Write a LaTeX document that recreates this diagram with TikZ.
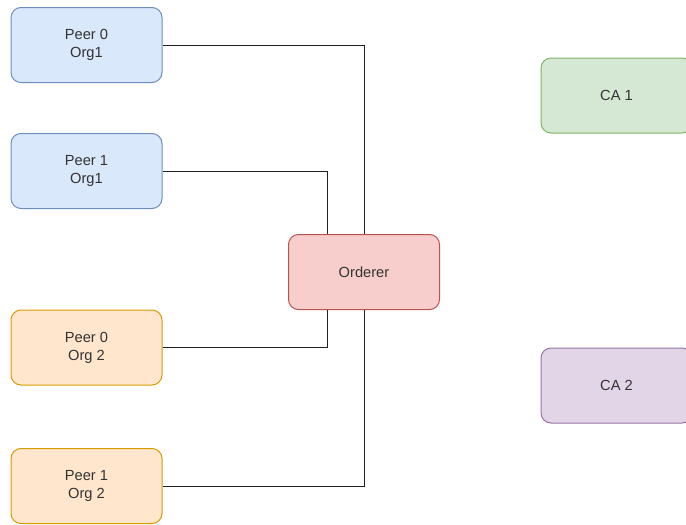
\documentclass[tikz,border=0pt]{standalone}
\usepackage{fontspec}
\setmainfont{Liberation Sans}
\usetikzlibrary{calc}
\definecolor{blueFill}{RGB}{218,232,252}
\definecolor{blueLine}{RGB}{108,142,191}
\definecolor{orangeFill}{RGB}{255,230,204}
\definecolor{orangeLine}{RGB}{215,155,0}
\definecolor{redFill}{RGB}{248,206,204}
\definecolor{redLine}{RGB}{184,84,80}
\definecolor{greenFill}{RGB}{213,232,212}
\definecolor{greenLine}{RGB}{130,179,102}
\definecolor{purpleFill}{RGB}{225,213,231}
\definecolor{purpleLine}{RGB}{150,115,166}
\definecolor{textGray}{RGB}{51,51,51}
\tikzset{
  box/.style={rounded corners=7.5pt, minimum width=113.25pt, minimum height=56.25pt,
    line width=0.75pt, align=center, text=textGray, inner sep=0pt,
    font=\fontsize{11}{13.5}\selectfont},
  link/.style={draw={rgb,255:red,34;green,34;blue,34}, line width=0.75pt}
}
\begin{document}
\begin{tikzpicture}[x=0.75pt,y=0.75pt,yscale=-1,xscale=1]
  \useasboundingbox (0,0) rectangle (686,525);

  %Rounded Rect: peers of Org1
  \node [box, draw=blueLine, fill=blueFill] (p0org1) at (86.5,45) {Peer 0\\Org1};
  \node [box, draw=blueLine, fill=blueFill] (p1org1) at (86.5,171) {Peer 1\\Org1};
  %Rounded Rect: peers of Org 2
  \node [box, draw=orangeLine, fill=orangeFill] (p0org2) at (86.5,347.5) {Peer 0\\Org 2};
  \node [box, draw=orangeLine, fill=orangeFill] (p1org2) at (86.5,486) {Peer 1\\Org 2};
  %Rounded Rect: orderer
  \node [box, draw=redLine, fill=redFill] (ord) at (364,272) {Orderer};
  %Rounded Rect: CAs
  \node [box, draw=greenLine, fill=greenFill] (ca1) at (616.5,95.5) {CA 1};
  \node [box, draw=purpleLine, fill=purpleFill] (ca2) at (616.5,385.5) {CA 2};

  %Connectors
  \draw [link] (p0org1.east) -| (ord.north);
  \draw [link] (p1org1.east) -| ($(ord.north)+(-37,0)$);
  \draw [link] (p0org2.east) -| ($(ord.south)+(-37,0)$);
  \draw [link] (p1org2.east) -| (ord.south);

\end{tikzpicture}
\end{document}
